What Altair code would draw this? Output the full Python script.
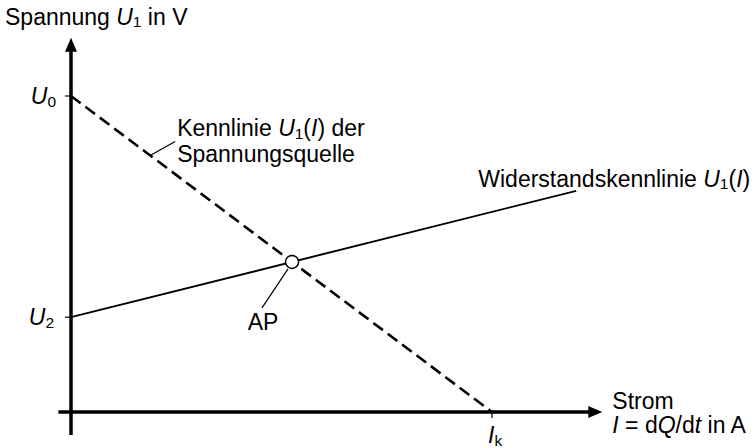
import altair as alt
import pandas as pd

# ---- characteristic values (volts / amperes) ----
U0 = 10.0            # open-circuit voltage of the source
U2 = 3.0             # resistor characteristic at I = 0
IK = 5.0             # short-circuit current
source_I = [0.0, IK]
source_U = [U0, 0.0]
resistor_I = [0.0, 6.0]
resistor_U = [U2, 7.0]
yaxis_U = [-0.73, 11.84]   # extent of the voltage axis (arrow tip at the top)
xaxis_I = [-0.15, 6.31]    # extent of the current axis (arrow tip at the right)

# ---- canvas and linear scales ----
W, H = 755, 448
ORIGIN_X, ORIGIN_Y = 71, 412        # pixel position of the axis crossing
PX_I, PX_U = 84.2, 31.6             # pixels per ampere / per volt
X_DOM = [-ORIGIN_X / PX_I, (W - ORIGIN_X) / PX_I]
Y_DOM = [-(H - ORIGIN_Y) / PX_U, ORIGIN_Y / PX_U]

FONT = "Liberation Sans"
FS = 23
SUB = 15.5
SUB_SHIFT = 2.5


def off(i, u, dx, dy):
    """Move a data point by a pixel offset."""
    return i + dx / PX_I, u - dy / PX_U


# operating point: intersection of both characteristics
s_src = (source_U[1] - source_U[0]) / (source_I[1] - source_I[0])
s_res = (resistor_U[1] - resistor_U[0]) / (resistor_I[1] - resistor_I[0])
AP_I = (source_U[0] - resistor_U[0]) / (s_res - s_src)
AP_U = resistor_U[0] + s_res * AP_I

# ---- rich-text layout (Arial / Liberation Sans advance widths) ----
ADV = {" ": 278, "(": 333, ")": 333, "/": 278, "=": 584, "0": 556, "1": 556,
       "2": 556, "A": 667, "I": 278, "K": 667, "P": 667, "Q": 778, "S": 667,
       "U": 722, "V": 667, "W": 944, "a": 556, "d": 556, "e": 556, "g": 556,
       "i": 222, "k": 500, "l": 222, "m": 833, "n": 556, "o": 556, "p": 556,
       "q": 556, "r": 333, "s": 500, "t": 278, "u": 556}
SIZES = {"r": FS, "i": FS, "s": SUB}


def tw(s, size):
    return sum(ADV[c] for c in s) / 1000 * size


def run(pieces, i, u, dx, dy, align="left"):
    total = sum(tw(t, SIZES[st]) for t, st in pieces)
    x = dx - (total if align == "right" else total / 2 if align == "center" else 0)
    rows = []
    for t, st in pieces:
        lead = len(t) - len(t.lstrip())
        a, b = off(i, u, x + tw(t[:lead], SIZES[st]), dy + (SUB_SHIFT if st == "s" else 0))
        rows.append({"I": a, "U": b, "text": t.strip(), "style": st})
        x += tw(t, SIZES[st])
    return rows


# leader from the source line to its label
lead_src_I = 0.94
lead_src = [(lead_src_I, U0 + s_src * lead_src_I)]
lead_src.append(off(*lead_src[0], 25, -14))
# leader from the operating point to "AP"
lead_ap = [off(AP_I, AP_U, -4, 7), off(AP_I, AP_U, -30, 46)]

texts = []
texts += run([("Spannung ", "r"), ("U", "i"), ("1", "s"), (" in V", "r")],
             0, yaxis_U[1], -66, -13)
texts += run([("U", "i"), ("0", "s")], 0, U0, -15, 8, "right")
texts += run([("U", "i"), ("2", "s")], 0, U2, -17, 8, "right")
texts += run([("I", "i"), ("k", "s")], IK, 0, -4, 31)
texts += run([("Kennlinie ", "r"), ("U", "i"), ("1", "s"), ("(", "r"), ("I", "i"),
              (") der", "r")], *lead_src[1], 2, -5)
texts += run([("Spannungsquelle", "r")], *lead_src[1], 2, 21)
texts += run([("Widerstandskennlinie ", "r"), ("U", "i"), ("1", "s"), ("(", "r"),
              ("I", "i"), (")", "r")], resistor_I[1], resistor_U[1], 174, -4, "right")
texts += run([("Strom", "r")], xaxis_I[1], 0, 10, -3)
texts += run([("I", "i"), (" = d", "r"), ("Q", "i"), ("/d", "r"), ("t", "i"),
              (" in A", "r")], xaxis_I[1], 0, 10, 21)
texts += run([("AP", "r")], AP_I, AP_U, -29, 68, "center")
text_df = pd.DataFrame(texts)


def X(field="I"):
    return alt.X(f"{field}:Q", scale=alt.Scale(domain=X_DOM, nice=False, zero=False), axis=None)


def Y(field="U"):
    return alt.Y(f"{field}:Q", scale=alt.Scale(domain=Y_DOM, nice=False, zero=False), axis=None)


# ---- axes with arrowheads and ticks ----
axes_df = pd.DataFrame([
    {"I": 0.0, "I2": 0.0, "U": yaxis_U[0], "U2": yaxis_U[1] - 8 / PX_U},
    {"I": xaxis_I[0], "I2": xaxis_I[1] - 8 / PX_I, "U": 0.0, "U2": 0.0},
])
axes = alt.Chart(axes_df).mark_rule(color="black", strokeWidth=3.5).encode(
    x=X(), x2="I2:Q", y=Y(), y2="U2:Q")

ticks_df = pd.DataFrame([
    {"I": -6 / PX_I, "I2": 0.0, "U": U0, "U2": U0},
    {"I": -6 / PX_I, "I2": 0.0, "U": U2, "U2": U2},
    {"I": IK, "I2": IK, "U": -6 / PX_U, "U2": 0.0},
])
ticks = alt.Chart(ticks_df).mark_rule(color="black", strokeWidth=1.2).encode(
    x=X(), x2="I2:Q", y=Y(), y2="U2:Q")

arrow_up = alt.Chart(pd.DataFrame({"I": [0.0], "U": [yaxis_U[1]]})).mark_point(
    shape="M0,0 L0.857,2 L-0.857,2 Z", size=196, filled=True, color="black",
    opacity=1, strokeWidth=0).encode(x=X(), y=Y())
arrow_right = alt.Chart(pd.DataFrame({"I": [xaxis_I[1]], "U": [0.0]})).mark_point(
    shape="M0,0 L-2,-0.857 L-2,0.857 Z", size=196, filled=True, color="black",
    opacity=1, strokeWidth=0).encode(x=X(), y=Y())

# ---- characteristics ----
source = alt.Chart(pd.DataFrame({"I": source_I, "U": source_U})).mark_line(
    color="black", strokeWidth=2.6, strokeDash=[12, 6]).encode(x=X(), y=Y())
resistor = alt.Chart(pd.DataFrame({"I": resistor_I, "U": resistor_U})).mark_line(
    color="black", strokeWidth=1.9).encode(x=X(), y=Y())

leaders_df = pd.DataFrame([
    {"I": lead_src[0][0], "U": lead_src[0][1], "I2": lead_src[1][0], "U2": lead_src[1][1]},
    {"I": lead_ap[0][0], "U": lead_ap[0][1], "I2": lead_ap[1][0], "U2": lead_ap[1][1]},
])
leaders = alt.Chart(leaders_df).mark_rule(color="black", strokeWidth=1.2).encode(
    x=X(), x2="I2:Q", y=Y(), y2="U2:Q")

ap = alt.Chart(pd.DataFrame({"I": [AP_I], "U": [AP_U]})).mark_point(
    shape="circle", size=169, filled=True, fill="white", stroke="black",
    strokeWidth=1.5, opacity=1).encode(x=X(), y=Y())

# ---- labels ----
def text_layer(style, size, font_style):
    return alt.Chart(text_df).transform_filter(
        alt.datum.style == style).mark_text(
        font=FONT, fontSize=size, fontStyle=font_style, align="left",
        baseline="alphabetic", color="black").encode(x=X(), y=Y(), text="text:N")


labels = [text_layer("r", FS, "normal"), text_layer("i", FS, "italic"),
          text_layer("s", SUB, "normal")]

chart = alt.layer(axes, ticks, source, resistor, leaders, ap, arrow_up, arrow_right,
                  *labels).properties(
    width=W, height=H, padding=0, autosize=alt.AutoSizeParams(type="none"),
    background="white").configure_view(stroke=None)

chart.save("out.html", embed_options={"renderer": "svg", "actions": False})
